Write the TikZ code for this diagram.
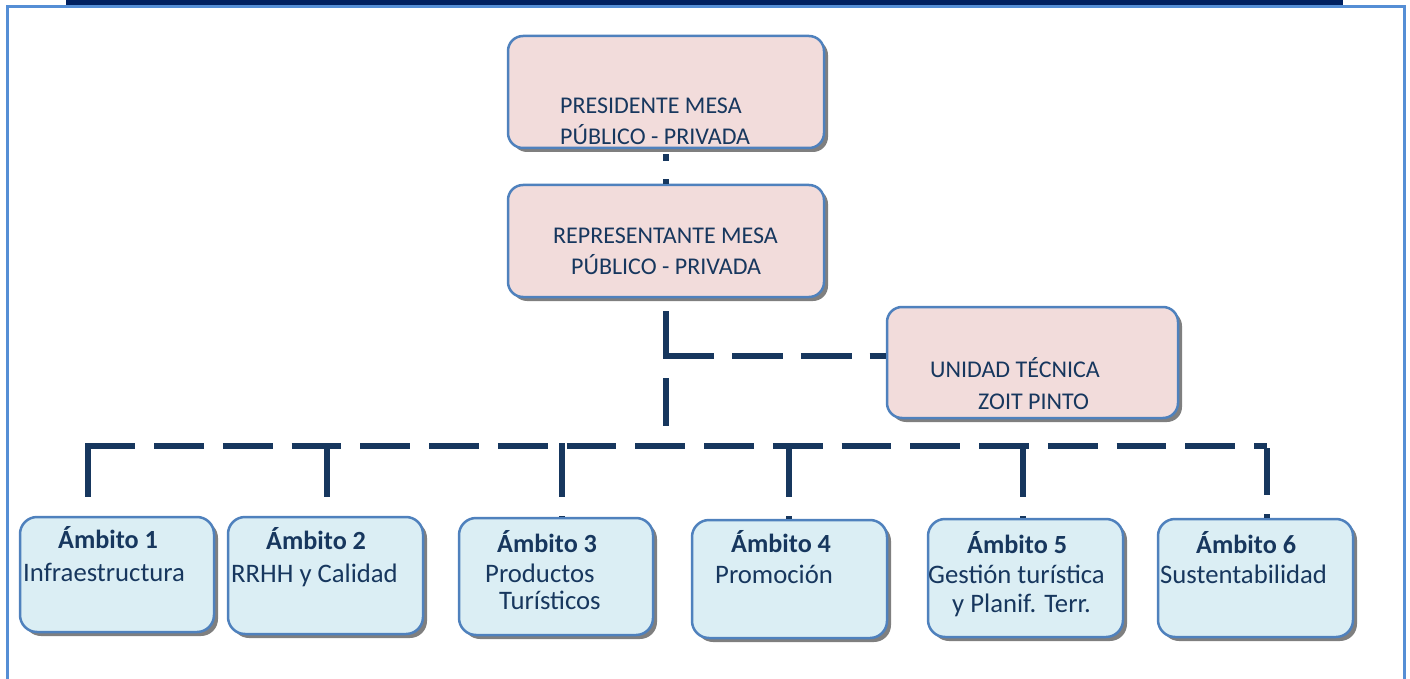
\documentclass[tikz,border=0pt]{standalone}
\usepackage{fontspec}
\setmainfont{Carlito}
\usetikzlibrary{shadows}
\definecolor{navy}{RGB}{23,55,94}
\definecolor{barblue}{RGB}{0,32,96}
\definecolor{framblue}{RGB}{85,142,213}
\definecolor{bordblue}{RGB}{79,129,189}
\definecolor{pinkfill}{RGB}{242,220,219}
\definecolor{ltblue}{RGB}{219,238,244}
\tikzset{
  boxbase/.style={draw=bordblue, line width=2.5pt, rounded corners=15pt,
    drop shadow={shadow xshift=4pt, shadow yshift=-4pt, fill=black, opacity=0.5}},
  pinkbox/.style={boxbase, fill=pinkfill},
  bluebox/.style={boxbase, fill=ltblue, rounded corners=17pt},
  conn/.style={draw=navy, line width=5.5pt},
  txt/.style={anchor=base west, inner sep=0pt, text=navy, font=\fontsize{24}{29}\selectfont},
  atxt/.style={anchor=base west, inner sep=0pt, text=navy, font=\fontsize{26.7}{31}\selectfont},
  btxt/.style={atxt, font=\fontsize{26.2}{31}\selectfont\bfseries},
}
\begin{document}
\begin{tikzpicture}[x=1pt,y=-1pt]
\useasboundingbox (0,0) rectangle (1410,679);
% top bar and frame
\fill[barblue] (66,0) rectangle (1343,6);
\draw[framblue, line width=3pt] (7,679) -- (7,7) -- (1404,7) -- (1404,679);

% boxes
\node[pinkbox, minimum width=316pt, minimum height=112pt] (pres) at (666,92) {};
\node[pinkbox, minimum width=316pt, minimum height=112pt] (rep) at (666,241) {};
\node[pinkbox, minimum width=291pt, minimum height=111pt] (uni) at (1032.5,362.5) {};

\node[bluebox, minimum width=194pt, minimum height=115pt] (a1) at (117,574.5) {};
\node[bluebox, minimum width=195pt, minimum height=117pt] (a2) at (325.5,575.5) {};
\node[bluebox, minimum width=194pt, minimum height=117pt] (a3) at (556,576.5) {};
\node[bluebox, minimum width=195pt, minimum height=118pt] (a4) at (789.5,579) {};
\node[bluebox, minimum width=195pt, minimum height=118pt] (a5) at (1025.5,578) {};
\node[bluebox, minimum width=195pt, minimum height=118pt] (a6) at (1255.5,578) {};

% texts
\node[txt] (t1) at (560,114) {PRESIDENTE MESA};
\node[txt] (t2) at (560,145) {PÚBLICO - PRIVADA};
\node[txt] (t3) at (553,243) {REPRESENTANTE MESA};
\node[txt] (t4) at (571,274) {PÚBLICO - PRIVADA};
\node[txt] (t5) at (930,377) {UNIDAD TÉCNICA};
\node[txt] (t6) at (978,409) {ZOIT PINTO};

\node[btxt] (b1) at (58,548) {Ámbito 1};
\node[atxt] (c1) at (23,581) {Infraestructura};
\node[btxt] (b2) at (266,549) {Ámbito 2};
\node[atxt] (c2) at (231,582) {RRHH y Calidad};
\node[btxt] (b3) at (497,552) {Ámbito 3};
\node[atxt] (c3) at (485,582) {Productos};
\node[atxt] (e3) at (499,609) {Turísticos};
\node[btxt] (b4) at (731,552) {Ámbito 4};
\node[atxt] (c4) at (715,583) {Promoción};
\node[btxt] (b5) at (967,553) {Ámbito 5};
\node[atxt] (c5) at (928,583) {Gestión turística};
\node[atxt] (e5) at (952,612) {y Planif. Terr.};
\node[btxt] (b6) at (1196,553) {Ámbito 6};
\node[atxt] (c6) at (1160,583) {Sustentabilidad};

% connectors
\draw[conn, dash pattern=on 7pt off 18pt, dash phase=20pt] (pres.south) -- (rep.north);
\coordinate (bus) at (666,446);
\draw[conn, dash pattern=on 48pt off 19pt, dash phase=54pt] (rep.south) -- (bus);
\coordinate (corner) at (663.25,356);
\draw[conn, dash pattern=on 50.75pt off 18pt] (corner) -- (corner -| uni.west);

\coordinate (d1) at (88,446);
\coordinate (d2) at (327,446);
\coordinate (d3) at (562,446);
\coordinate (d4) at (789,446);
\coordinate (d5) at (1023,446);
\coordinate (d6) at (1267,446);
\coordinate (busstart) at (85.25,446);
\draw[conn, dash pattern=on 49.75pt off 19pt] (busstart) -- (d6);
\foreach \d/\a in {d1/a1,d2/a2,d3/a3,d4/a4,d5/a5}{
  \draw[conn, dash pattern=on 53.75pt off 19pt] ([yshift=2.75pt]\d) -- (\d |- \a.north);
}
\draw[conn, dash pattern=on 47pt off 19pt] ([yshift=-2pt]d6) -- (d6 |- a6.north);
\end{tikzpicture}
\end{document}
